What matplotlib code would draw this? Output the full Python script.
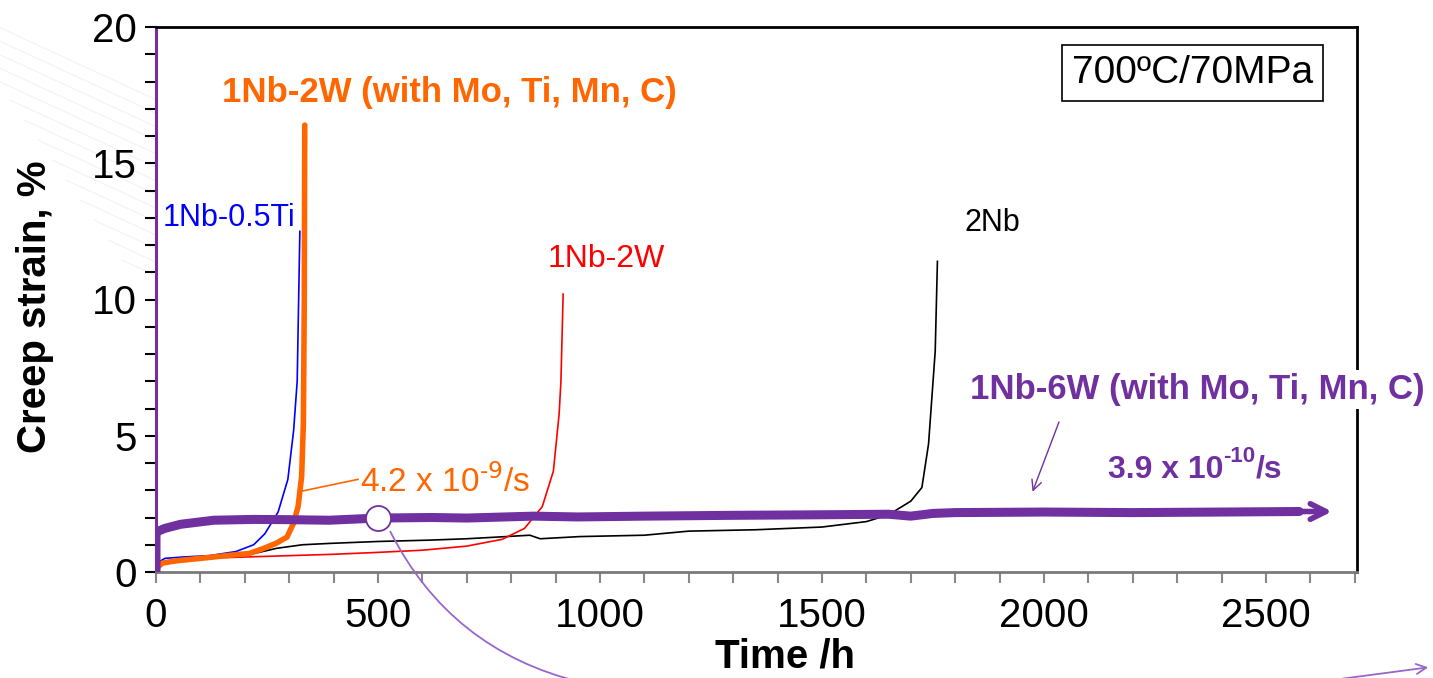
import matplotlib
matplotlib.use("Agg")
import matplotlib.pyplot as plt
from matplotlib.path import Path
from matplotlib.patches import PathPatch, FancyArrowPatch
from matplotlib.ticker import MultipleLocator

plt.rcParams['font.family'] = ['Liberation Sans', 'DejaVu Sans']
plt.rcParams['mathtext.default'] = 'regular'

PURPLE = '#7030A0'
ORANGE = '#FF6600'

# creep curves, time in h and strain in %
t_6w = [0, 0, 5, 20, 55, 130, 220, 300, 390, 500, 620, 700, 850, 950, 1100, 1300,
        1500, 1650, 1700, 1750, 1800, 2000, 2200, 2400, 2575]
e_6w = [0, 1.5, 1.5, 1.6, 1.75, 1.9, 1.93, 1.92, 1.9, 1.98, 2.0, 1.98, 2.05, 2.02, 2.05, 2.08,
        2.1, 2.12, 2.05, 2.15, 2.18, 2.2, 2.18, 2.2, 2.22]

t_2w_alloy = [0, 5, 15, 50, 100, 170, 210, 240, 270, 295, 310, 320, 328, 332, 334, 335]
e_2w_alloy = [0, 0.2, 0.33, 0.42, 0.5, 0.62, 0.68, 0.85, 1.05, 1.28, 1.8, 2.4, 3.5, 5.5, 10, 16.4]

t_ti = [0, 5, 20, 60, 120, 180, 220, 245, 275, 297, 310, 318, 324]
e_ti = [0, 0.35, 0.5, 0.55, 0.6, 0.75, 1.0, 1.4, 2.2, 3.4, 5.2, 7.0, 12.5]

t_2w = [0, 10, 100, 200, 300, 400, 500, 600, 700, 780, 830, 870, 895, 908, 912, 917]
e_2w = [0, 0.3, 0.5, 0.55, 0.6, 0.65, 0.72, 0.8, 0.95, 1.2, 1.6, 2.4, 3.7, 5.8, 7.0, 10.2]

t_2nb = [0, 10, 100, 200, 272, 330, 392, 500, 617, 700, 767, 842, 865, 955, 1100, 1200,
         1350, 1500, 1600, 1650, 1700, 1725, 1740, 1755, 1760]
e_2nb = [0, 0.3, 0.5, 0.6, 0.87, 1.0, 1.05, 1.12, 1.17, 1.22, 1.28, 1.35, 1.22, 1.3, 1.35, 1.5,
         1.55, 1.65, 1.85, 2.1, 2.6, 3.1, 4.7, 8.1, 11.4]

W, H = 1433, 678
fig = plt.figure(figsize=(W / 100, H / 100), dpi=100)

def fx(px):
    return px / W

def fy(py):
    return 1 - py / H

# faint background stripes of the slide
for k in range(14):
    x0 = -60 + k * 14
    fig.add_artist(plt.Line2D([fx(x0), fx(x0 + 260)], [fy(0 + k * 20), fy(120 + k * 20)],
                              transform=fig.transFigure, color='#f2f2f2', lw=0.8, zorder=0))

ax = fig.add_axes([fx(156), fy(572), fx(1357) - fx(156), fy(27) - fy(572)])
ax.set_xlim(0, 2705)
ax.set_ylim(0, 20)

ax.plot(t_2nb, e_2nb, color='black', lw=1.2, zorder=3)
ax.plot(t_2w, e_2w, color='red', lw=1.2, zorder=3)
ax.plot(t_ti, e_ti, color='blue', lw=1.2, zorder=3)
ax.plot(t_2w_alloy, e_2w_alloy, color=ORANGE, lw=4, zorder=4, solid_capstyle='round')
ax.plot(t_6w, e_6w, color=PURPLE, lw=6.5, zorder=5, solid_capstyle='round')
ax.annotate('', xy=(2655, e_6w[-1]), xytext=(2560, e_6w[-1]),
            arrowprops=dict(arrowstyle='->', color=PURPLE, lw=4, mutation_scale=28), zorder=5)

# marker circle at 500 h
ax.plot([500], [1.98], marker='o', ms=18, mfc='white', mec=PURPLE, mew=1.3, zorder=6)

ax.xaxis.set_major_locator(MultipleLocator(500))
ax.xaxis.set_minor_locator(MultipleLocator(100))
ax.yaxis.set_major_locator(MultipleLocator(5))
ax.yaxis.set_minor_locator(MultipleLocator(1))
ax.tick_params(axis='x', which='both', direction='out', length=8, width=1.5, color='#888888',
               labelsize=29, pad=10)
ax.tick_params(axis='y', which='both', direction='out', length=8, width=1.5, color='black',
               labelsize=29, pad=6)

ax.spines['left'].set_color(PURPLE)
ax.spines['left'].set_linewidth(2.2)
ax.spines['bottom'].set_color('#7a7a7a')
ax.spines['bottom'].set_linewidth(2)
ax.spines['top'].set_linewidth(2)
ax.spines['right'].set_linewidth(2)

fig.text(fx(785), fy(656), 'Time /h', fontsize=29, fontweight='bold', ha='center', va='center')
fig.text(fx(35), fy(307), 'Creep strain, %', fontsize=29, fontweight='bold', rotation=90,
         ha='center', va='center')

# curve labels
ax.text(149, 17.6, '1Nb-2W (with Mo, Ti, Mn, C)', color=ORANGE, fontsize=25,
        fontweight='bold', va='center', ha='left')
ax.text(16, 13.0, '1Nb-0.5Ti', color='blue', fontsize=22, va='center', ha='left')
ax.text(883, 11.5, '1Nb-2W', color='red', fontsize=23, va='center', ha='left')
ax.text(1822, 12.8, '2Nb', color='black', fontsize=22, va='center', ha='left')
ax.text(459, 3.3, r'4.2 x 10$^{\text{-9}}$/s', color=ORANGE, fontsize=24, va='center', ha='left')
ax.text(1833, 6.7, '1Nb-6W (with Mo, Ti, Mn, C)', color=PURPLE, fontsize=25,
        fontweight='bold', va='center', ha='left',
        bbox=dict(facecolor='white', edgecolor='none', pad=2), zorder=7)

# bold rate label built from pieces so the exponent stays bold
rate_base = ax.text(2144, 3.75, '3.9 x 10', color=PURPLE, fontsize=23,
                    fontweight='bold', va='center', ha='left')
rate_exp = ax.annotate('-10', xy=(1.0, 0.6), xycoords=rate_base, color=PURPLE,
                       fontsize=16, fontweight='bold', va='bottom', ha='left')
ax.annotate('/s', xy=(1.0, 0.0), xycoords=(rate_exp, rate_base), color=PURPLE,
            fontsize=23, fontweight='bold', va='bottom', ha='left')

ax.text(0.863, 0.916, '700ºC/70MPa', transform=ax.transAxes, fontsize=28,
        va='center', ha='center',
        bbox=dict(facecolor='white', edgecolor='black', lw=1.2, boxstyle='square,pad=0.25'))

# leader lines
ax.plot([323, 455], [2.95, 3.4], color=ORANGE, lw=1.2, zorder=3)
ax.annotate('', xy=(1972, 2.85), xytext=(2036, 5.6),
            arrowprops=dict(arrowstyle='->', color=PURPLE, lw=1, mutation_scale=18))

# purple callout curve leaving the plot from the circle
verts = [(fx(390), fy(531)), (fx(450), fy(650)), (fx(580), fy(682))]
callout = PathPatch(Path(verts, [Path.MOVETO, Path.CURVE3, Path.CURVE3]),
                    transform=fig.transFigure, facecolor='none', edgecolor='#9966CC',
                    lw=1.3, zorder=8)
fig.add_artist(callout)
fig.add_artist(FancyArrowPatch((fx(1340), fy(679)), (fx(1431), fy(667)),
                               transform=fig.transFigure, arrowstyle='->',
                               color='#9966CC', lw=1.3, mutation_scale=18))

fig.savefig('out.png', dpi=100)
